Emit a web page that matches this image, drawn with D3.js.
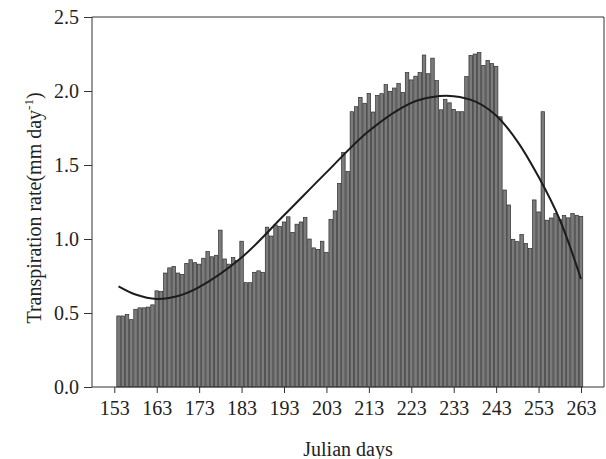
<!DOCTYPE html>
<html>
<head>
<meta charset="utf-8">
<script src="https://cdn.jsdelivr.net/npm/d3@7/dist/d3.min.js"></script>
<style>
  html, body { margin: 0; padding: 0; background: #ffffff; }
  svg text { font-family: "Liberation Serif", "Times New Roman", serif; fill: #222; }
</style>
</head>
<body>
<svg id="chart" width="606" height="459"></svg>
<script>
// Daily transpiration, Julian days 154–263 (mm day-1)
const firstDay = 154;
const transpiration = [
  0.48, 0.48, 0.49, 0.455, 0.525, 0.535, 0.535, 0.54, 0.555, 0.65,
  0.645, 0.77, 0.805, 0.815, 0.77, 0.76, 0.835, 0.86, 0.84, 0.83,
  0.87, 0.915, 0.88, 0.89, 1.06, 0.865, 0.83, 0.875, 0.855, 0.985,
  0.705, 0.705, 0.775, 0.785, 0.775, 1.08, 1.02, 1.095, 1.085, 1.115,
  1.15, 1.045, 1.10, 1.115, 1.145, 1.0, 0.94, 0.93, 0.985, 0.91,
  1.133, 1.19, 1.375, 1.585, 1.457, 1.86, 1.894, 1.957, 1.917, 1.984,
  1.858, 1.97, 1.982, 2.043, 1.998, 2.02, 2.05, 1.99, 2.124, 2.075,
  2.1, 2.124, 2.243, 2.117, 2.222, 2.07, 1.873, 1.944, 1.92, 1.876,
  1.86, 1.86, 2.097, 2.24, 2.25, 2.26, 2.173, 2.207, 2.185, 2.167,
  1.826, 1.331, 1.23, 0.998, 0.982, 1.03, 0.97, 0.935, 1.264, 1.183,
  1.86, 1.127, 1.142, 1.172, 1.132, 1.158, 1.143, 1.172, 1.16, 1.152
];
const days = transpiration.map((_, i) => firstDay + i);

// Seasonal trend line
const trendDays   = [154, 158, 163, 168, 173, 183, 193, 203, 213, 223, 228, 233, 238, 243, 248, 253, 258, 263];
const trendValues = [0.68, 0.625, 0.595, 0.615, 0.675, 0.875, 1.16, 1.45, 1.73, 1.92, 1.96, 1.965, 1.93, 1.835, 1.66, 1.42, 1.13, 0.73];

const xTickValues = [153, 163, 173, 183, 193, 203, 213, 223, 233, 243, 253, 263];
const yTickValues = [0, 0.5, 1.0, 1.5, 2.0, 2.5];

const svg = d3.select("#chart");
const plot = { left: 92, right: 604, top: 17, bottom: 387 };
const fontSize = 20;

const x = d3.scaleLinear().domain([153, 263]).range([114.3, 581]);
const y = d3.scaleLinear().domain([0, 2.5]).range([plot.bottom, plot.top]);
const step = x(1) - x(0);
const barW = step - 0.75;

// Bars
svg.append("g")
  .selectAll("rect")
  .data(days)
  .join("rect")
  .attr("x", (d) => x(d) - barW / 2)
  .attr("y", (d, i) => y(transpiration[i]))
  .attr("width", barW)
  .attr("height", (d, i) => y(0) - y(transpiration[i]))
  .attr("fill", "#7b7b7b")
  .attr("stroke", "#2e2e2e")
  .attr("stroke-width", 0.7);

// Trend curve
const line = d3.line()
  .x((d, i) => x(trendDays[i]))
  .y((d) => y(d))
  .curve(d3.curveCatmullRom.alpha(0.5));
svg.append("path")
  .attr("d", line(trendValues))
  .attr("fill", "none")
  .attr("stroke", "#1c1c1c")
  .attr("stroke-width", 2);

// Frame
svg.append("path")
  .attr("d", `M${plot.left},${plot.bottom}V${plot.top}H${plot.right}V${plot.bottom}H${plot.left}`)
  .attr("fill", "none")
  .attr("stroke", "#333")
  .attr("stroke-width", 1);

// Axes
const xAxis = svg.append("g")
  .attr("transform", `translate(0,${plot.bottom})`)
  .call(d3.axisBottom(x).tickValues(xTickValues).tickSize(6).tickPadding(8).tickFormat(d3.format("d")));
const yAxis = svg.append("g")
  .attr("transform", `translate(${plot.left},0)`)
  .call(d3.axisLeft(y).tickValues(yTickValues).tickSize(8).tickPadding(5).tickFormat(d3.format(".1f")));
[xAxis, yAxis].forEach((g) => {
  g.select(".domain").remove();
  g.selectAll(".tick line").attr("stroke", "#333");
  g.selectAll(".tick text").attr("font-size", fontSize).attr("font-family", "Liberation Serif").attr("fill", "#222");
});

// Axis titles
svg.append("text")
  .attr("x", (plot.left + plot.right) / 2)
  .attr("y", 456)
  .attr("text-anchor", "middle")
  .attr("font-size", fontSize)
  .text("Julian days");

const yTitle = svg.append("text")
  .attr("transform", `translate(41,${(plot.top + plot.bottom) / 2 + 6}) rotate(-90)`)
  .attr("text-anchor", "middle")
  .attr("font-size", fontSize);
yTitle.append("tspan").text("Transpiration rate(mm day");
yTitle.append("tspan").attr("dy", -8).attr("font-size", 13).text("-1");
yTitle.append("tspan").attr("dy", 8).text(")");
</script>
</body>
</html>
